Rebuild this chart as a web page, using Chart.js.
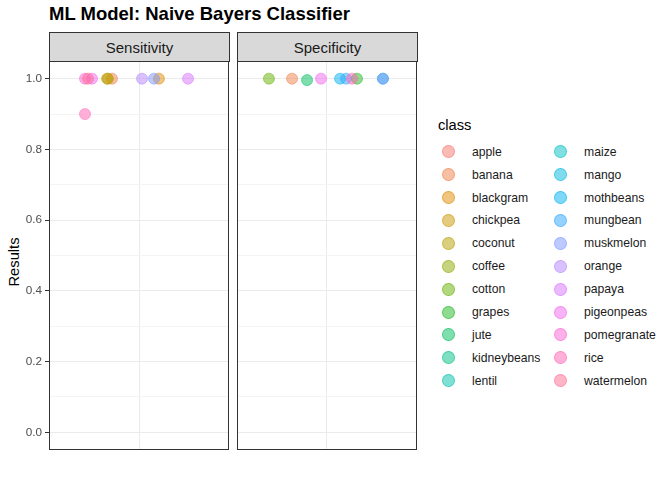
<!DOCTYPE html>
<html>
<head>
<meta charset="utf-8">
<script src="https://cdn.jsdelivr.net/npm/chart.js@4.4.1/dist/chart.umd.min.js"></script>
<style>
  html, body { margin:0; padding:0; background:#fff; }
  body { width:672px; height:480px; position:relative; overflow:hidden; font-family:"Liberation Sans", Arial, sans-serif; }
  .abs { position:absolute; }
  #title { left:49px; top:3px; font-size:18.5px; font-weight:bold; color:#000; white-space:nowrap; }
  .strip { top:32px; height:28px; width:179px; background:#D9D9D9; border:1px solid #333; box-sizing:content-box; color:#1A1A1A; font-size:15px; text-align:center; line-height:29px; }
  #ytitle { left:14px; top:262px; transform:translate(-50%,-50%) rotate(-90deg); font-size:14.7px; color:#000; white-space:nowrap; }
  #legtitle { left:438px; top:117px; font-size:14.7px; color:#000; }
  .key { width:11px; height:11px; border-radius:50%; }
  .lab { font-size:12.2px; color:#1A1A1A; white-space:nowrap; line-height:14px; }
</style>
</head>
<body>
<div id="title" class="abs">ML Model: Naive Bayers Classifier</div>
<div id="strip1" class="abs strip" style="left:49px;">Sensitivity</div>
<div id="strip2" class="abs strip" style="left:237px;">Specificity</div>
<div id="ytitle" class="abs">Results</div>
<div id="legtitle" class="abs">class</div>
<canvas id="c1" class="abs" width="232" height="404" style="left:0px;top:54px;"></canvas>
<canvas id="c2" class="abs" width="190" height="404" style="left:232px;top:54px;"></canvas>
<div id="legend"></div>
<script>
// ---- data ----
const classes = ["apple","banana","blackgram","chickpea","coconut","coffee","cotton","grapes","jute","kidneybeans","lentil","maize","mango","mothbeans","mungbean","muskmelon","orange","papaya","pigeonpeas","pomegranate","rice","watermelon"];
const classColors = ["#F8766D","#EF7F48","#E08B00","#CB9700","#B49F00","#90AA00","#66B200","#20B81F","#00BD5C","#00C086","#00C1A8","#00BFC4","#00B9E0","#00B2F2","#2EA5FF","#7D96FF","#B385FF","#D874FD","#EF67EB","#FC61D4","#FF63B6","#FF6C92"];

// Sensitivity panel (jittered x position, value)
const sensClass  = ["banana","blackgram","chickpea","coconut","muskmelon","orange","papaya","pigeonpeas","pomegranate","rice","watermelon"];
const sensX      = [0.82, 1.133, 0.787, 0.793, 1.10, 1.02, 1.327, 0.687, 0.64, 0.64, 0.66];
const sensValue  = [1.0, 1.0, 1.0, 1.0, 1.0, 1.0, 1.0, 1.0, 1.0, 0.9, 1.0];

// Specificity panel
const specClass  = ["banana","cotton","grapes","jute","mango","mothbeans","mungbean","muskmelon","pigeonpeas","rice"];
const specX      = [0.767, 0.613, 1.20, 0.867, 1.373, 1.087, 1.127, 1.373, 0.96, 1.167];
const specValue  = [1.0, 1.0, 1.0, 0.996, 1.0, 1.0, 1.0, 1.0, 1.0, 1.0];

const yTicks = [0,0.1,0.2,0.3,0.4,0.5,0.6,0.7,0.8,0.9,1.0];

function rgba(hex, a) {
  const n = parseInt(hex.slice(1),16);
  return `rgba(${(n>>16)&255},${(n>>8)&255},${n&255},${a})`;
}
function colorOf(c){ return classColors[classes.indexOf(c)]; }

const borderPlugin = {
  id:'panelBorder',
  afterDraw(chart){
    const {ctx, chartArea:a} = chart;
    ctx.save();
    ctx.strokeStyle = '#333333';
    ctx.lineWidth = 1;
    ctx.strokeRect(Math.round(a.left)+0.5, Math.round(a.top)+0.5, Math.round(a.right-a.left)-1, Math.round(a.bottom-a.top)-1);
    ctx.restore();
  }
};

function makePanel(id, cls, xs, vals, showY, yWidth, pad) {
  const isMajor = v => Math.round(v*10) % 2 === 0;
  return new Chart(document.getElementById(id), {
    type:'scatter',
    data:{ datasets:[{
      data: cls.map((c,i)=>({x:xs[i], y:vals[i]})),
      pointRadius:5.5, pointHoverRadius:5.5, borderWidth:1,
      pointBackgroundColor: cls.map(c=>rgba(colorOf(c),0.5)),
      pointBorderColor: cls.map(c=>rgba(colorOf(c),0.5)),
    }]},
    options:{
      responsive:false, animation:false, devicePixelRatio:1,
      layout:{ padding: pad, autoPadding:false },
      plugins:{ legend:{display:false}, tooltip:{enabled:false} },
      scales:{
        x:{ type:'linear', min:0.4, max:1.6,
            afterBuildTicks: s => { s.ticks = [{value:1}]; },
            ticks:{ display:false },
            border:{ display:false },
            grid:{ color:'#EBEBEB', lineWidth:1, drawTicks:false },
            afterFit: s => { s.height = 0; s.paddingLeft = 0; s.paddingRight = 0; }
        },
        y:{ type:'linear', min:-0.05, max:1.05,
            afterBuildTicks: s => { s.ticks = yTicks.map(v=>({value:v})); },
            ticks:{ display:showY, color:'#4D4D4D', padding:3,
                    font:{ family:'"Liberation Sans", Arial, sans-serif', size:11.7 },
                    callback: v => isMajor(v) ? v.toFixed(1) : '' },
            border:{ display:false },
            grid:{
              color: c => (c.tick && isMajor(c.tick.value)) ? '#EBEBEB' : '#F4F4F4',
              lineWidth:1, drawTicks: showY, tickLength:4,
              tickColor: c => (showY && c.tick && isMajor(c.tick.value)) ? '#333333' : 'rgba(0,0,0,0)'
            },
            afterFit: s => { s.width = yWidth; s.paddingTop = 0; s.paddingBottom = 0; }
        }
      }
    },
    plugins:[borderPlugin]
  });
}

makePanel('c1', sensClass, sensX, sensValue, true, 49, {top:7, right:3, bottom:8, left:0});
makePanel('c2', specClass, specX, specValue, false, 5, {top:7, right:5, bottom:8, left:0});

// legend
const leg = document.getElementById('legend');
classes.forEach((c,i)=>{
  const col = i < 11 ? 0 : 1;
  const row = i % 11;
  const cy = 151.7 + row*22.9;
  const kx = col ? 560.5 : 448.5;
  const tx = col ? 584 : 472;
  const k = document.createElement('div');
  k.className = 'abs key';
  k.style.left = (kx-6.5)+'px';
  k.style.top = (cy-6.5)+'px';
  k.style.background = rgba(classColors[i],0.5);
  k.style.border = '1px solid ' + rgba(classColors[i],0.5);
  leg.appendChild(k);
  const t = document.createElement('div');
  t.className = 'abs lab';
  t.style.left = tx+'px';
  t.style.top = (cy-7)+'px';
  t.textContent = c;
  leg.appendChild(t);
});
</script>
</body>
</html>
